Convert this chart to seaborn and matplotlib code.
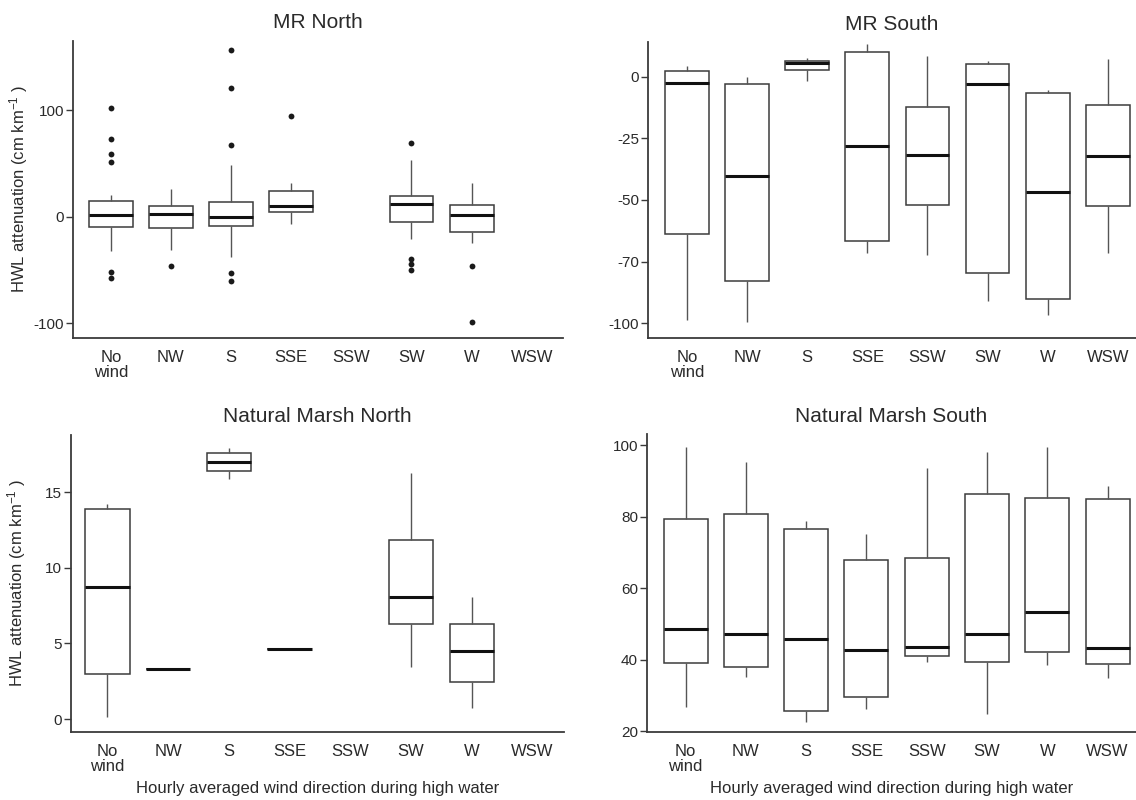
import numpy as np
import pandas as pd
import matplotlib
matplotlib.use("Agg")
import matplotlib.pyplot as plt
import seaborn as sns

# ---------------- data ----------------
directions = ["No wind", "NW", "S", "SSE", "SSW", "SW", "W", "WSW"]
tick_labels = ["No\nwind", "NW", "S", "SSE", "SSW", "SW", "W", "WSW"]

# Each panel: lower whisker end, Q1, median, Q3, upper whisker end (None = no data)
mrn_lo  = [-32.2, -30.9, -38.1, -7.2, None, -20.9, -24.7, None]
mrn_q1  = [-9.4, -10.6, -8.4, 4.1, None, -5.3, -14.0, None]
mrn_med = [1.2, 2.2, -0.6, 10.3, None, 11.9, 1.2, None]
mrn_q3  = [15.0, 9.7, 13.4, 24.1, None, 19.4, 10.6, None]
mrn_hi  = [20.3, 25.6, 48.4, 31.6, None, 53.4, 31.6, None]
mrn_out_dir = ["No wind"] * 6 + ["NW"] + ["S"] * 5 + ["SSE"] + ["SW"] * 4 + ["W"] * 2
mrn_out_val = [102.2, 73.4, 58.4, 51.6, -52.2, -57.8,
               -46.6,
               156.2, 120.6, 67.5, -53.0, -60.9,
               94.7,
               68.8, -39.4, -44.4, -50.3,
               -46.2, -99.0]

mrs_lo  = [-98.9, -99.5, -2.0, -71.4, -72.4, -91.2, -96.8, -71.7]
mrs_q1  = [-63.9, -82.9, 2.7, -66.8, -52.0, -79.8, -90.2, -52.4]
mrs_med = [-2.8, -40.4, 5.3, -28.2, -31.8, -3.2, -46.8, -32.3]
mrs_q3  = [2.3, -3.1, 6.3, 10.1, -12.3, 5.1, -6.5, -11.6]
mrs_hi  = [4.4, -0.1, 7.4, 13.2, 8.5, 6.1, -5.4, 7.1]

nmn_lo  = [0.13, 3.28, 15.9, 4.65, None, 3.41, 0.73, None]
nmn_q1  = [2.95, 3.28, 16.4, 4.65, None, 6.28, 2.47, None]
nmn_med = [8.77, 3.28, 16.98, 4.65, None, 8.10, 4.49, None]
nmn_q3  = [13.92, 3.28, 17.6, 4.65, None, 11.83, 6.28, None]
nmn_hi  = [14.2, 3.28, 17.97, 4.65, None, 16.3, 8.06, None]

nms_lo  = [26.8, 35.3, 22.5, 26.2, 39.3, 24.7, 38.5, 34.8]
nms_q1  = [39.0, 38.0, 25.7, 29.5, 41.1, 39.5, 42.3, 38.8]
nms_med = [48.7, 47.1, 45.7, 42.7, 43.5, 47.3, 53.5, 43.3]
nms_q3  = [79.3, 80.9, 76.7, 67.8, 68.6, 86.5, 85.3, 85.1]
nms_hi  = [99.5, 95.3, 78.9, 75.3, 93.7, 98.1, 99.5, 88.6]

titles = ["MR North", "MR South", "Natural Marsh North", "Natural Marsh South"]
ylabel_text = "HWL attenuation (cm km$^{-1}$ )"
xlabel_text = "Hourly averaged wind direction during high water"


def samples_frame(lo, q1, med, q3, hi, reps=20):
    """Sample set whose min / quartiles / median / max equal the read values."""
    rows = []
    for d, a, b, c, e, f in zip(directions, lo, q1, med, q3, hi):
        if a is None:
            continue
        vals = [a] + [b] * reps + [c] * reps + [e] * reps + [f]
        rows += [(d, v) for v in vals]
    return pd.DataFrame(rows, columns=["direction", "value"])


panels = [
    dict(df=samples_frame(mrn_lo, mrn_q1, mrn_med, mrn_q3, mrn_hi),
         out=pd.DataFrame({"direction": mrn_out_dir, "value": mrn_out_val}),
         ylim=(-114, 165), yticks=[-100, 0, 100], yticklabels=["-100", "0", "100"],
         rect=[73, 41, 563, 338], ylabel=True, xlabel=False, xlim=(-0.63, 7.52)),
    dict(df=samples_frame(mrs_lo, mrs_q1, mrs_med, mrs_q3, mrs_hi), out=None,
         ylim=(-106, 14), yticks=[-100, -75, -50, -25, 0],
         yticklabels=["-100", "-70", "-50", "-25", "0"],
         rect=[648, 42, 1136, 338], ylabel=False, xlabel=False, xlim=(-0.65, 7.47)),
    dict(df=samples_frame(nmn_lo, nmn_q1, nmn_med, nmn_q3, nmn_hi), out=None,
         ylim=(-0.86, 18.8), yticks=[0, 5, 10, 15], yticklabels=["0", "5", "10", "15"],
         rect=[71, 435, 564, 732], ylabel=True, xlabel=True, xlim=(-0.6, 7.52)),
    dict(df=samples_frame(nms_lo, nms_q1, nms_med, nms_q3, nms_hi), out=None,
         ylim=(19.8, 103.2), yticks=[20, 40, 60, 80, 100],
         yticklabels=["20", "40", "60", "80", "100"],
         rect=[647, 434, 1136, 732], ylabel=False, xlabel=True, xlim=(-0.64, 7.47)),
]

# ---------------- style ----------------
sns.set_theme(style="ticks")
plt.rcParams["font.family"] = ["Liberation Sans", "DejaVu Sans"]
plt.rcParams["mathtext.fontset"] = "custom"
plt.rcParams["mathtext.rm"] = "Liberation Sans"
plt.rcParams["mathtext.it"] = "Liberation Sans"
plt.rcParams["mathtext.default"] = "regular"

W, H = 1136, 800
fig = plt.figure(figsize=(W / 100, H / 100), dpi=100)
spine_col = "#3a3a3a"
text_col = "#2a2a2a"

for p, title in zip(panels, titles):
    l, t, r, b = p["rect"]
    ax = fig.add_axes([l / W, 1 - b / H, (r - l) / W, (b - t) / H])
    sns.boxplot(data=p["df"], x="direction", y="value", order=directions,
                whis=(0, 100), width=0.73, color="white", linecolor="#3c3c3c",
                linewidth=1.1, showcaps=False, showfliers=False,
                medianprops=dict(color="#111111", linewidth=2.2),
                whiskerprops=dict(color="#555555", linewidth=1.0),
                ax=ax)
    if p["out"] is not None:
        sns.stripplot(data=p["out"], x="direction", y="value", order=directions,
                      jitter=False, color="#1a1a1a", size=4.2, ax=ax)
    ax.set_xlim(*p["xlim"])
    ax.set_ylim(*p["ylim"])
    ax.set_yticks(p["yticks"])
    ax.set_yticklabels(p["yticklabels"])
    ax.set_xticks(range(len(directions)))
    ax.set_xticklabels(tick_labels)
    for lbl in ax.get_xticklabels():
        lbl.set_linespacing(1.05)
    ax.tick_params(axis="x", length=0, pad=8.5, labelsize=12, labelcolor=text_col)
    ax.tick_params(axis="y", length=5, width=1.0, pad=1.5, labelsize=11,
                   labelcolor=text_col, color=spine_col)
    for s in ["top", "right"]:
        ax.spines[s].set_visible(False)
    for s in ["left", "bottom"]:
        ax.spines[s].set_color(spine_col)
        ax.spines[s].set_linewidth(1.3)
    ax.set_title(title, fontsize=15, pad=9, color=text_col)
    ax.set_xlabel(xlabel_text if p["xlabel"] else "", fontsize=12, color=text_col)
    ax.set_ylabel(ylabel_text if p["ylabel"] else "", fontsize=12, color=text_col)
    if p["ylabel"]:
        ax.yaxis.set_label_coords(-0.088, 0.5)
    if p["xlabel"]:
        ax.xaxis.set_label_coords(0.5, -0.166)

fig.savefig("out.png", dpi=100, facecolor="white")
